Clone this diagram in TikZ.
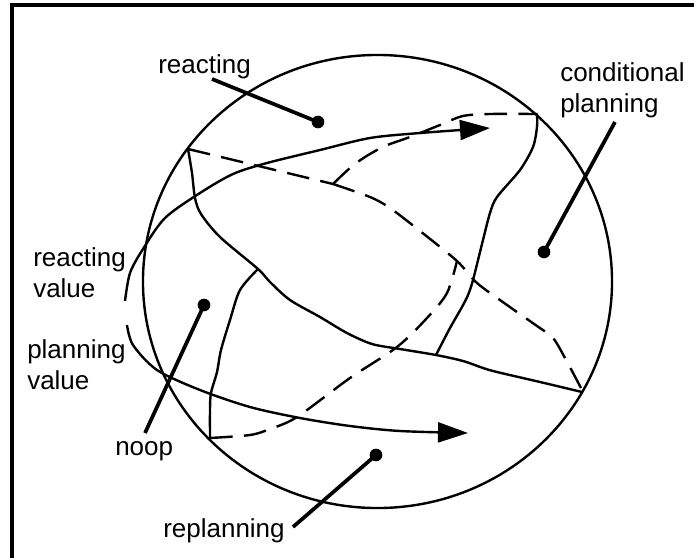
\documentclass[tikz,border=0pt]{standalone}
\usepackage{fontspec}
\setmainfont{Liberation Sans}
\usetikzlibrary{arrows.meta}
\begin{document}
\begin{tikzpicture}[x=0.75pt,y=-0.75pt,
  bound/.style={line width=1.8pt, line join=round, line cap=round},
  dashbound/.style={line width=1.8pt, dash pattern=on 17pt off 8.5pt},
  valarrow/.style={line width=1.8pt, -{Triangle[length=22.5pt,width=15pt]}},
  leader/.style={line width=2.8pt},
  dot/.style={circle, fill, inner sep=0pt, minimum size=9.5pt},
  lbl/.style={font=\fontsize{19.5}{23}\selectfont, inner sep=0pt, anchor=base west, align=left},
  frame/.style={line width=2.4pt, line join=miter}]
\useasboundingbox (0,0) rectangle (694,558);
% frame (only top and left edges visible)
\draw[frame] (694,5) -- (12,5) -- (12,558);
% the space of situations
\draw[bound] (377.5,281.5) ellipse [x radius=175.9pt, y radius=169.9pt];
% key points
\coordinate (TL) at (188,149);
\coordinate (BL) at (210,438);
\coordinate (TR) at (537,114);
\coordinate (RR) at (582,392);
\coordinate (J1) at (258,269);
\coordinate (J2) at (436,355);
\coordinate (K) at (333,184);
\coordinate (J3) at (457,261);
\coordinate (DE) at (581,388);
% solid region boundaries
\draw[bound] plot[smooth, tension=0.5] coordinates {(TL) (192,173) (195,198) (201,214) (220,237) (J1) (270,282) (290,300) (320,317) (347,333) (372,344) (400,349) (J2) (463,361) (483,368) (497,372) (540,382) (RR)};
\draw[bound] plot[smooth, tension=0.5] coordinates {(J1) (240,290) (230,320) (221,350) (217,372) (211,393) (210,410) (BL)};
\draw[bound] plot[smooth, tension=0.5] coordinates {(TR) (537,127) (533,147) (520,170) (497,197) (490,213) (483,240) (473,280) (468,295) (462,307) (450,328) (J2)};
% dashed boundaries
\draw[dashbound] (TL) -- (K);
\draw[dashbound] plot[smooth, tension=0.5] coordinates {(K) (350,168) (365,157) (385,146) (410,137) (440,125) (463,116) (490,114) (TR)};
\draw[dashbound] plot[smooth, tension=0.5] coordinates {(K) (370,197) (390,208) (420,231) (J3) (477,283) (507,305) (537,326) (553,338) (565,358) (DE)};
\draw[dashbound] plot[smooth, tension=0.5] coordinates {(BL) (250,435) (270,429) (297,417) (350,378) (397,347) (427,318) (447,293) (J3)};
% value arrows
\coordinate (A1s) at (125,301);
\coordinate (A1e) at (490,128);
\coordinate (A2s) at (127,325);
\coordinate (A2e) at (468,433);
\draw[valarrow] plot[smooth, tension=0.5] coordinates {(A1s) (130,273) (143,249) (165,218) (200,193) (233,174) (267,163) (320,150) (370,138) (420,133) (A1e)};
\draw[valarrow] plot[smooth, tension=0.5] coordinates {(A2s) (133,345) (157,370) (200,390) (250,407) (300,418) (350,426) (400,431) (A2e)};
% labels (anchor = baseline of the last line)
\node[lbl] (reactL) at (158,73) {reacting};
\node[lbl] (condL) at (560,112) {conditional\\planning};
\node[lbl] (rvL) at (33,297) {reacting\\value};
\node[lbl] (pvL) at (27,389) {planning\\value};
\node[lbl] (noopL) at (115,455) {noop};
\node[lbl] (replL) at (163,537) {replanning};
% dots
\node[dot] (dR) at (318,122) {};
\node[dot] (dC) at (544,252) {};
\node[dot] (dN) at (204,305) {};
\node[dot] (dP) at (376,455) {};
% leaders
\coordinate (lR) at (212,79);
\coordinate (lC) at (615,122);
\coordinate (lN) at (145,433);
\coordinate (lP) at (293,527);
\draw[leader] (lR) -- (dR.center);
\draw[leader] (lC) -- (dC.center);
\draw[leader] (lN) -- (dN.center);
\draw[leader] (lP) -- (dP.center);
\end{tikzpicture}
\end{document}
